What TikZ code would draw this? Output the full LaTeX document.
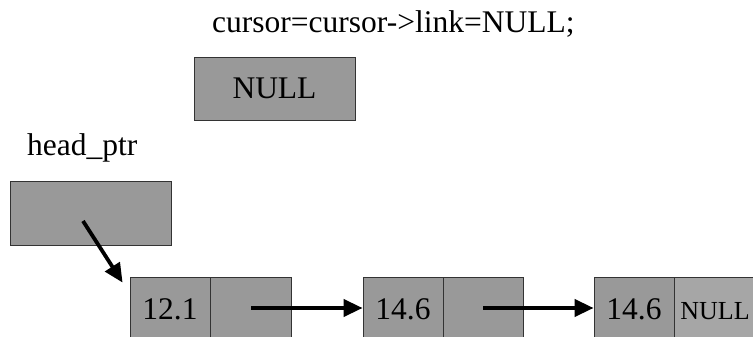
\documentclass[tikz,border=0pt]{standalone}
\usepackage{fontspec}
\setmainfont{Liberation Serif}
\usetikzlibrary{arrows.meta,calc}
\definecolor{cellgray}{HTML}{999999}
\definecolor{nullgray}{HTML}{A6A6A6}
\definecolor{edgegray}{HTML}{333333}
\begin{document}
\begin{tikzpicture}[x=1pt,y=-1pt,
  cell/.style={draw=edgegray,line width=0.8pt,fill=cellgray,inner sep=0pt,
    minimum width=80pt,minimum height=64pt,text height=21pt,text depth=0pt,
    font=\fontsize{31.5}{36}\selectfont},
  lastcell/.style={cell,fill=nullgray,font=\fontsize{26}{30}\selectfont},
  label/.style={inner sep=0pt,anchor=base west,font=\fontsize{31.5}{36}\selectfont},
  ptr/.style={line width=3.8pt,-{Triangle[length=19pt,width=17pt]}}]
\useasboundingbox (0,0) rectangle (753,337);
\clip (0,0) rectangle (753,337);

% statement being illustrated
\node[label] (stmt) at (212,33) {cursor=cursor->link=NULL;};

% the new value of cursor
\node[cell,minimum width=161pt,minimum height=63pt] (cursor) at (274.5,88.5) {NULL};

% head pointer
\node[label] (headlbl) at (27,155) {head\_ptr};
\node[cell,minimum width=161pt] (head) at (90.5,213) {};

% list nodes: data field and link field
\node[cell] (n1a) at (170,309) {12.1};
\node[cell,minimum width=81pt] (n1b) at (250.5,309) {};
\node[cell] (n2a) at (403,309) {14.6};
\node[cell] (n2b) at (483,309) {};
\node[cell] (n3a) at (634,309) {14.6};
\node[lastcell,minimum width=82pt] (n3b) at (715,309) {NULL};

% pointer origins
\coordinate (hp) at (83,221);
\coordinate (l1) at (251,308);
\coordinate (l2) at (483,308);

\draw[ptr] (hp) -- ($(n1a.north west)+(-7,6)$);
\draw[ptr] (l1) -- (l1 -| n2a.west);
\draw[ptr] (l2) -- (l2 -| n3a.west);
\end{tikzpicture}
\end{document}
